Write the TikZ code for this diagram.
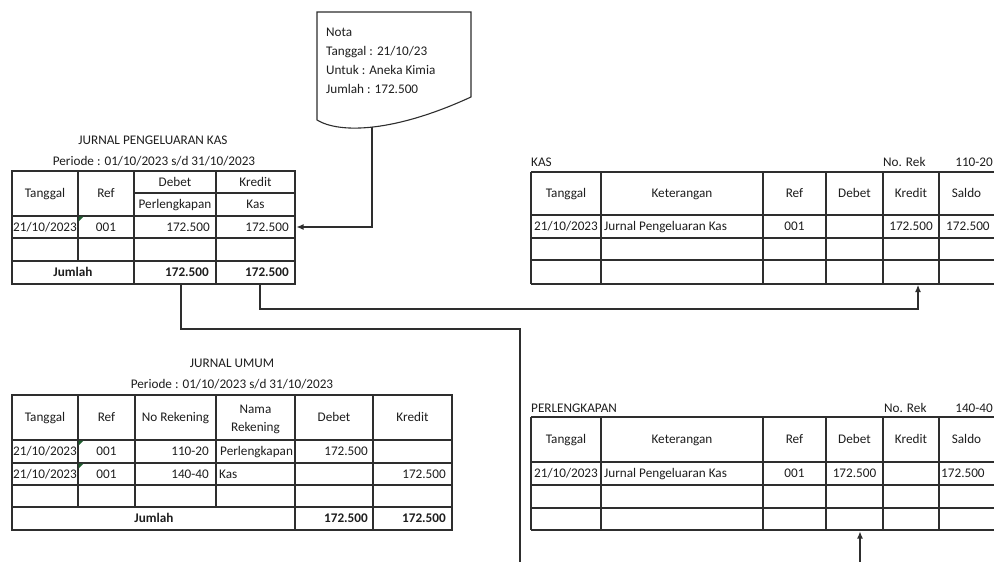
\documentclass[tikz,border=0pt]{standalone}
\usepackage{fontspec}
\setmainfont{Carlito}
\usetikzlibrary{arrows.meta}
\definecolor{linec}{HTML}{2E2E2E}
\definecolor{txtc}{HTML}{1E1E1E}
\definecolor{errc}{HTML}{1F5F2F}
\newcommand\fs{\fontsize{13.2}{16}\selectfont}
\tikzset{
  t/.style={inner sep=0pt, text height=9.5pt, text depth=1.5pt, font=\fs, text=txtc},
  tb/.style={t, font=\fs\bfseries},
  gridline/.style={draw=linec, line width=1.1pt},
  conn/.style={draw=linec, line width=1.1pt},
  arr/.style={conn, -{Latex[length=7pt,width=6pt]}},
  errmark/.style={fill=errc, draw=none},
}
\begin{document}
\begin{tikzpicture}[x=1pt,y=-1pt]
\useasboundingbox (0,0) rectangle (994,562);
\fill[white] (0,0) rectangle (994,562);

% ---------------- Nota (document shape)
\draw[gridline, fill=white] (317,12) -- (471,12) -- (471,97)
   .. controls (395,132) and (340,134) .. (317,120) -- cycle;
\node[t, anchor=west] (notaA) at (326,32) {Nota};
\node[t, anchor=west] (notaB) at (326,51) {Tanggal : 21/10/23};
\node[t, anchor=west] (notaC) at (326,70) {Untuk : Aneka Kimia};
\node[t, anchor=west] (notaD) at (326,89) {Jumlah : 172.500};
\coordinate (notaOut) at (372,127);

% ---------------- Jurnal Pengeluaran Kas
\node[t] (jpkT1) at (153,140) {JURNAL PENGELUARAN KAS};
\node[t] (jpkT2) at (154,161) {Periode : 01/10/2023 s/d 31/10/2023};
\draw[gridline] (12,171) rectangle (295,284);
\draw[gridline] (134,193) -- (295,193);
\draw[gridline] (12,216) -- (295,216);
\draw[gridline] (12,238) -- (295,238);
\draw[gridline] (12,261) -- (295,261);
\draw[gridline] (78,171) -- (78,261);
\draw[gridline] (134,171) -- (134,284);
\draw[gridline] (216,171) -- (216,284);
\fill[errmark] (78.5,216.5) -- (83.5,216.5) -- (78.5,221.5) -- cycle;
\node[t] (jpkH1) at (45,193.5) {Tanggal};
\node[t] (jpkH2) at (106,193.5) {Ref};
\node[t] (jpkH3) at (175,182) {Debet};
\node[t] (jpkH4) at (255.5,182) {Kredit};
\node[t] (jpkH5) at (175,204.5) {Perlengkapan};
\node[t] (jpkH6) at (255.5,204.5) {Kas};
\node[t] (jpkR1) at (45,227) {21/10/2023};
\node[t] (jpkR2) at (106,227) {001};
\node[t, anchor=east] (jpkR3) at (210,227) {172.500};
\node[t, anchor=east] (jpkR4) at (289,227) {172.500};
\node[tb] (jpkJ1) at (73,272.5) {Jumlah};
\node[tb, anchor=east] (jpkJ2) at (209,272.5) {172.500};
\node[tb, anchor=east] (jpkJ3) at (289,272.5) {172.500};
\coordinate (jpkKin) at (296.5,227);
\coordinate (jpkDebOut) at (181,284);
\coordinate (jpkKreOut) at (260,284);

% ---------------- KAS ledger
\node[t, anchor=west] (kasL) at (531,162) {KAS};
\node[t, anchor=west] (kasNo) at (883,162) {No. Rek};
\node[t, anchor=east] (kasNr) at (993,162) {110-20};
\foreach \yy in {172,215,238,260,284} \draw[gridline] (531,\yy) -- (994,\yy);
\foreach \xx in {531,601,763,826,883,939} \draw[gridline] (\xx,172) -- (\xx,284);
\node[t] (kasH1) at (566,193.5) {Tanggal};
\node[t] (kasH2) at (682,193.5) {Keterangan};
\node[t] (kasH3) at (794.5,193.5) {Ref};
\node[t] (kasH4) at (854.5,193.5) {Debet};
\node[t] (kasH5) at (911,193.5) {Kredit};
\node[t] (kasH6) at (966.5,193.5) {Saldo};
\node[t] (kasR1) at (566,226.5) {21/10/2023};
\node[t, anchor=west] (kasR2) at (604,226.5) {Jurnal Pengeluaran Kas};
\node[t] (kasR3) at (794.5,226.5) {001};
\node[t, anchor=east] (kasR5) at (933,226.5) {172.500};
\node[t, anchor=west] (kasR6) at (946,226.5) {172.500};
\coordinate (kasIn) at (918,285);

% ---------------- Jurnal Umum
\node[t] (juT1) at (232,363) {JURNAL UMUM};
\node[t] (juT2) at (232,384) {Periode : 01/10/2023 s/d 31/10/2023};
\draw[gridline] (12,395) rectangle (452,530);
\foreach \yy in {440,463,485,507} \draw[gridline] (12,\yy) -- (452,\yy);
\foreach \xx in {78,135,216} \draw[gridline] (\xx,395) -- (\xx,507);
\foreach \xx in {295,373} \draw[gridline] (\xx,395) -- (\xx,530);
\fill[errmark] (78.5,440.5) -- (83.5,440.5) -- (78.5,445.5) -- cycle;
\fill[errmark] (78.5,463.5) -- (83.5,463.5) -- (78.5,468.5) -- cycle;
\node[t] (juH1) at (45,417.5) {Tanggal};
\node[t] (juH2) at (106.5,417.5) {Ref};
\node[t] (juH3) at (175.5,417.5) {No Rekening};
\node[t] (juH4a) at (255.5,409) {Nama};
\node[t] (juH4b) at (255.5,427) {Rekening};
\node[t] (juH5) at (334,417.5) {Debet};
\node[t] (juH6) at (412.5,417.5) {Kredit};
\node[t] (juA1) at (45,451.5) {21/10/2023};
\node[t] (juA2) at (106.5,451.5) {001};
\node[t, anchor=east] (juA3) at (209,451.5) {110-20};
\begin{scope}
  \clip (216,441) rectangle (294,462);
  \node[t, anchor=west] (juA4) at (220,451.5) {Perlengkapan};
\end{scope}
\node[t, anchor=east] (juA5) at (368,451.5) {172.500};
\node[t] (juB1) at (45,474) {21/10/2023};
\node[t] (juB2) at (106.5,474) {001};
\node[t, anchor=east] (juB3) at (209,474) {140-40};
\node[t, anchor=west] (juB4) at (219,474) {Kas};
\node[t, anchor=east] (juB6) at (446,474) {172.500};
\node[tb] (juJ1) at (154,518.5) {Jumlah};
\node[tb, anchor=east] (juJ5) at (368,518.5) {172.500};
\node[tb, anchor=east] (juJ6) at (446,518.5) {172.500};

% ---------------- PERLENGKAPAN ledger
\node[t, anchor=west] (perL) at (531,408) {PERLENGKAPAN};
\node[t, anchor=west] (perNo) at (884,408) {No. Rek};
\node[t, anchor=east] (perNr) at (993,408) {140-40};
\foreach \yy in {417,462,485,508,530} \draw[gridline] (531,\yy) -- (994,\yy);
\foreach \xx in {531,601,763,826,883,939} \draw[gridline] (\xx,417) -- (\xx,530);
\node[t] (perH1) at (566,439.5) {Tanggal};
\node[t] (perH2) at (682,439.5) {Keterangan};
\node[t] (perH3) at (794.5,439.5) {Ref};
\node[t] (perH4) at (854.5,439.5) {Debet};
\node[t] (perH5) at (911,439.5) {Kredit};
\node[t] (perH6) at (966.5,439.5) {Saldo};
\node[t] (perR1) at (566,473.5) {21/10/2023};
\node[t, anchor=west] (perR2) at (604,473.5) {Jurnal Pengeluaran Kas};
\node[t] (perR3) at (794.5,473.5) {001};
\node[t] (perR4) at (854.5,473.5) {172.500};
\node[t, anchor=west] (perR6) at (941,473.5) {172.500};
\coordinate (perIn) at (860,531.5);
\coordinate (perSrc) at (860,562);

% ---------------- connectors
\draw[arr] (notaOut) |- (jpkKin);
\draw[arr] (jpkKreOut) -- ++(0,25) -| (kasIn);
\coordinate (debEnd) at (520,562);
\draw[conn] (jpkDebOut) -- ++(0,45) -| (debEnd);
\draw[arr] (perSrc) -- (perIn);
\end{tikzpicture}
\end{document}
